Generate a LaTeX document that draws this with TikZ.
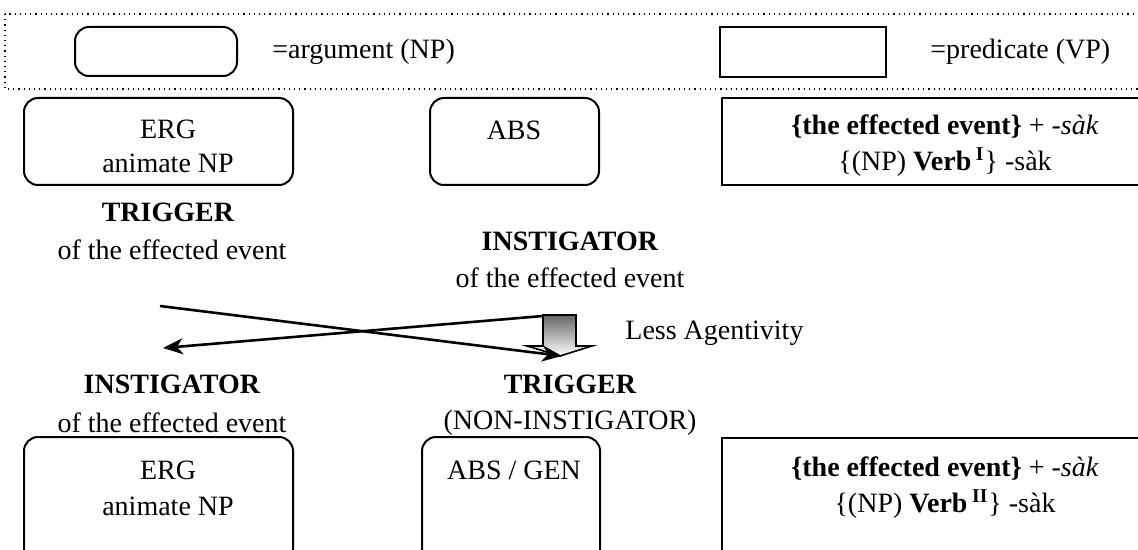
\documentclass[tikz,border=0pt]{standalone}
\usepackage{fontspec}
\setmainfont{Liberation Serif}
\usetikzlibrary{arrows.meta}

\begin{document}
\begin{tikzpicture}[x=0.5pt, y=-0.5pt,
    every node/.style={font=\fontsize{14}{16.5}\selectfont, inner sep=0pt},
    argbox/.style={draw, line width=1pt, rounded corners=7pt, minimum height=43.5pt},
    predbox/.style={draw, line width=1pt, minimum height=43.5pt},
    txt/.style={align=center},
    cross/.style={line width=1.3pt, -{Stealth[length=10pt, width=8pt, inset=3pt]}}]
    \clip (0,0) rectangle (1138,550);
    % legend
    \draw[dotted, line width=0.6pt] (5,14) rectangle (1160,89);
    \node[argbox, minimum width=81pt, minimum height=24.5pt] (legArg) at (156,51.5) {};
    \node[anchor=west] (legArgTxt) at (272,52) {=argument (NP)};
    \node[predbox, minimum width=83pt, minimum height=25pt] (legPred) at (803,52) {};
    \node[anchor=west] (legPredTxt) at (930,52) {=predicate (VP)};
    % upper row
    \node[argbox, minimum width=134.5pt] (ergA) at (158.5,141.5) {};
    \node[txt] (ergAtxt) at (168,146.5) {ERG\\[0.5pt]animate NP};
    \node[argbox, minimum width=84.5pt] (absA) at (514.5,141.5) {};
    \node (absAtxt) at (514,130) {ABS};
    \node[predbox, minimum width=219pt] (vpA) at (941,142) {};
    \node[txt] (vpAtxt) at (945,146) {\textbf{\{the effected event\}} + -\textit{sàk}\\[1.5pt]
        \{(NP) \textbf{Verb}\,\textsuperscript{\textbf{I}}\} -sàk};
    \node (trigA) at (168,212) {\textbf{TRIGGER}};
    \node (ofA) at (172,250) {of the effected event};
    \node (instA) at (570,241) {\textbf{INSTIGATOR}};
    \node (ofB) at (570,278) {of the effected event};
    % shift of roles
    \coordinate (trigStart) at (160,306);
    \coordinate (trigEnd) at (562,356);
    \coordinate (instStart) at (543,316);
    \coordinate (instEnd) at (163,348);
    \shade[top color=black!60, bottom color=white, draw, line width=0.8pt]
        (543,315) -- (576,315) -- (576,346) -- (592,346) -- (560,356)
        -- (527,346) -- (543,346) -- cycle;
    \draw[cross] (trigStart) -- (trigEnd);
    \draw[cross] (instStart) -- (instEnd);
    \node[anchor=west] (less) at (625,333) {Less Agentivity};
    \node (instB) at (172,384) {\textbf{INSTIGATOR}};
    \node (ofC) at (172,423) {of the effected event};
    \node (trigB) at (570,384) {\textbf{TRIGGER}};
    \node (nonB) at (570,423) {(NON-INSTIGATOR)};
    % lower row
    \node[argbox, minimum width=134.5pt, minimum height=76.5pt] (ergB) at (158.5,513.5) {};
    \node[txt] (ergBtxt) at (168,488) {ERG\\[1.5pt]animate NP};
    \node[argbox, minimum width=89pt, minimum height=76.5pt] (absB) at (511,513.5) {};
    \node (absBtxt) at (514,470) {ABS / GEN};
    \node[predbox, minimum width=219pt, minimum height=76.5pt] (vpB) at (941,514) {};
    \node[txt] (vpBtxt) at (945,488) {\textbf{\{the effected event\}} + -\textit{sàk}\\[1.5pt]
        \{(NP) \textbf{Verb}\,\textsuperscript{\textbf{II}}\} -sàk};
\end{tikzpicture}
\end{document}
